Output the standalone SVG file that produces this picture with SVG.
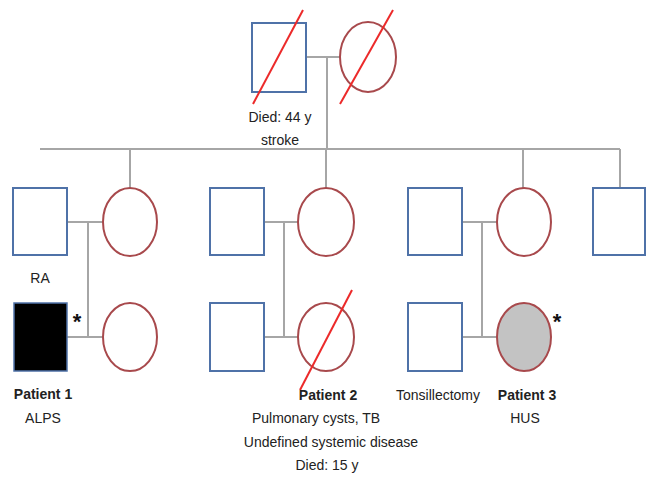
<svg xmlns="http://www.w3.org/2000/svg" width="647" height="479" viewBox="0 0 647 479">
<style>
.m{fill:#fff;stroke:#4f72a8;stroke-width:2}
.f{fill:#fff;stroke:#a8494c;stroke-width:2}
.d{stroke:#ec2a2a;stroke-width:2;fill:none}
.c{stroke:#a6a6a6;stroke-width:2;fill:none}
text{font-family:"Liberation Sans",Arial,sans-serif;font-size:14px;fill:#222;text-anchor:middle}
.b{font-weight:bold}
.s{font-size:22px;font-weight:bold;fill:#111}
</style>
<rect width="647" height="479" fill="#fff"/>
<g id="connectors">
<path class="c" d="M306 57H340M327 57V149M40 149H620M130 149V188M326 149V188M523 149V188M620 149V188"/>
<path class="c" d="M67 222H103M88 222V337M67 337H103"/>
<path class="c" d="M264 222H298M284 222V337M264 337H298"/>
<path class="c" d="M462 222H497M482 222V337M462 337H497"/>
</g>
<g id="grandfather"><rect class="m" x="252" y="23" width="54" height="69"/><line class="d" x1="253" y1="104" x2="303" y2="10"/><text x="280" y="122">Died: 44 y</text><text x="280" y="145">stroke</text></g>
<g id="grandmother"><ellipse class="f" cx="368" cy="57" rx="28" ry="35"/><line class="d" x1="340" y1="104" x2="393" y2="10"/></g>
<g id="g2m1"><rect class="m" x="13" y="188" width="54" height="67"/><text x="40" y="283">RA</text></g>
<g id="g2f1"><ellipse class="f" cx="130" cy="222" rx="27" ry="34"/></g>
<g id="g2m2"><rect class="m" x="210" y="188" width="54" height="67"/></g>
<g id="g2f2"><ellipse class="f" cx="326" cy="222" rx="28" ry="34"/></g>
<g id="g2m3"><rect class="m" x="408" y="188" width="54" height="67"/></g>
<g id="g2f3"><ellipse class="f" cx="524" cy="222" rx="27" ry="34"/></g>
<g id="g2m4"><rect class="m" x="593" y="188" width="52" height="67"/></g>
<g id="patient1"><rect x="14" y="303" width="53" height="68" fill="#000" stroke="#4f72a8" stroke-width="1.5"/><text class="s" x="77" y="329">*</text><text class="b" x="43" y="399">Patient 1</text><text x="43" y="423">ALPS</text></g>
<g id="g3f1"><ellipse class="f" cx="130" cy="337" rx="27" ry="34"/></g>
<g id="g3m2"><rect class="m" x="210" y="303" width="54" height="68"/></g>
<g id="patient2"><ellipse class="f" cx="326" cy="337" rx="28" ry="34"/><line class="d" x1="300" y1="390" x2="352" y2="290"/><text class="b" x="328" y="400">Patient 2</text><text x="316" y="423">Pulmonary cysts, TB</text><text x="331" y="447">Undefined systemic disease</text><text x="327" y="470">Died: 15 y</text></g>
<g id="g3m3"><rect class="m" x="408" y="303" width="54" height="68"/><text x="438" y="400">Tonsillectomy</text></g>
<g id="patient3"><ellipse cx="524" cy="337" rx="27" ry="34" fill="#c3c3c3" stroke="#a8494c" stroke-width="2"/><text class="s" x="557" y="329">*</text><text class="b" x="527" y="400">Patient 3</text><text x="525" y="423">HUS</text></g>
</svg>
